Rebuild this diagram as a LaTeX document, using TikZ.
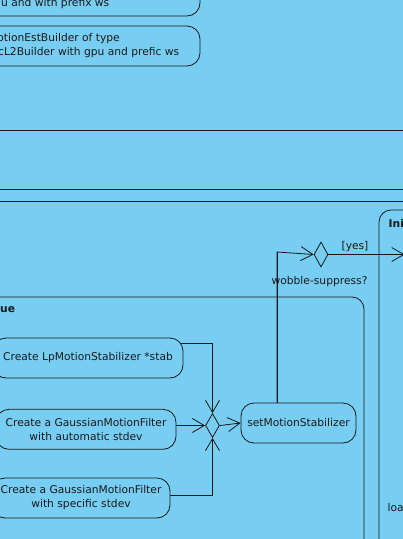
\documentclass[tikz,border=0pt]{standalone}
\usepackage{fontspec}
\setmainfont{DejaVu Sans}
\usetikzlibrary{shapes.geometric,arrows.meta,calc,backgrounds}
\definecolor{bgblue}{HTML}{78CDF2}
\definecolor{ink}{HTML}{1A1A1A}
\tikzset{
  lbl/.style={inner sep=0pt,font=\fontsize{10.7}{14}\selectfont,text=ink},
  bold/.style={lbl,font=\fontsize{10.7}{14}\selectfont\bfseries},
  action/.style={draw=ink,line width=0.8pt,fill=bgblue,rounded corners=13pt,inner sep=0pt,
     font=\fontsize{10.7}{14}\selectfont,text=ink,align=center},
  choice/.style={draw=ink,line width=0.8pt,fill=bgblue,shape=diamond,inner sep=0pt},
  wire/.style={draw=ink,line width=0.8pt},
  flow/.style={wire,-{Straight Barb[length=12pt,width=14pt,line width=0.8pt]}},
  frame/.style={draw=ink,line width=0.8pt,rounded corners=12pt},
}
\begin{document}
\begin{tikzpicture}[x=1pt,y=-1pt]
\useasboundingbox (0,0) rectangle (403,539);
\clip (0,0) rectangle (403,539);
% separators
\draw[wire] (0,130) coordinate (s1a) -- (403,130) coordinate (s1b);
\draw[wire] (0,189) coordinate (s2a) -- (403,189) coordinate (s2b);
\draw[wire] (0,201) coordinate (s3a) -- (403,201) coordinate (s3b);
% frames
\draw[frame] (0,297) -- (364,297) -- (364,560);
\node[bold,anchor=west] (ue) at (0,309.5) {ue};
\draw[frame] (379,560) -- (379,210) -- (420,210);
\node[bold,anchor=west] (ini) at (388.5,223) {Ini};
\node[lbl,anchor=west] (loa) at (387.5,508) {loa};
% top partial boxes
\node[action,minimum width=230pt,minimum height=40pt] (b0) at (85,-4) {};
\node[lbl,anchor=east] (t0) at (109.5,4) {u and with prefix ws};
\node[action,minimum width=230pt,minimum height=40pt] (b1) at (85,46) {};
\node[lbl,anchor=east] (t1a) at (120,39) {otionEstBuilder of type};
\node[lbl,anchor=east] (t1b) at (179.5,53) {cL2Builder with gpu and prefic ws};
% decision
\node[choice,minimum width=14pt,minimum height=25pt] (d1) at (321,254.5) {};
\node[lbl] (yes) at (355,247) {[yes]};
\node[lbl] (wob) at (319.5,282) {wobble-suppress?};
\coordinate (out) at (404.5,254.5);
\draw[flow] (d1.east) -- (out);
% actions
\node[action,minimum width=190pt,minimum height=40pt] (A) at (88,358) {Create LpMotionStabilizer *stab};
\node[action,minimum width=180pt,minimum height=40pt] (B) at (86,429.3) {Create a GaussianMotionFilter\\with automatic stdev};
\node[action,minimum width=178pt,minimum height=40pt] (C) at (81,498) {Create a GaussianMotionFilter\\with specific stdev};
\node[action,minimum width=115pt,minimum height=40pt] (S) at (298.5,423) {setMotionStabilizer};
\node[choice,minimum width=14pt,minimum height=24pt] (m) at (212.5,425.5) {};
\coordinate (bend) at (277,252);
\begin{pgfonlayer}{background}
\fill[bgblue] (0,0) rectangle (403,539);
\draw[flow] (A.center |- 0,343) -| (m.north);
\draw[flow] (C.center |- 0,495) -| (m.south);
\draw[wire] (S.center -| bend) -- (bend);
\end{pgfonlayer}
\draw[flow] (B.east |- m) -- (m.west);
\draw[flow] (m.east) -- (S.west);
\draw[flow] (S.north -| bend) -- (bend) -- (d1.west);
\end{tikzpicture}
\end{document}
